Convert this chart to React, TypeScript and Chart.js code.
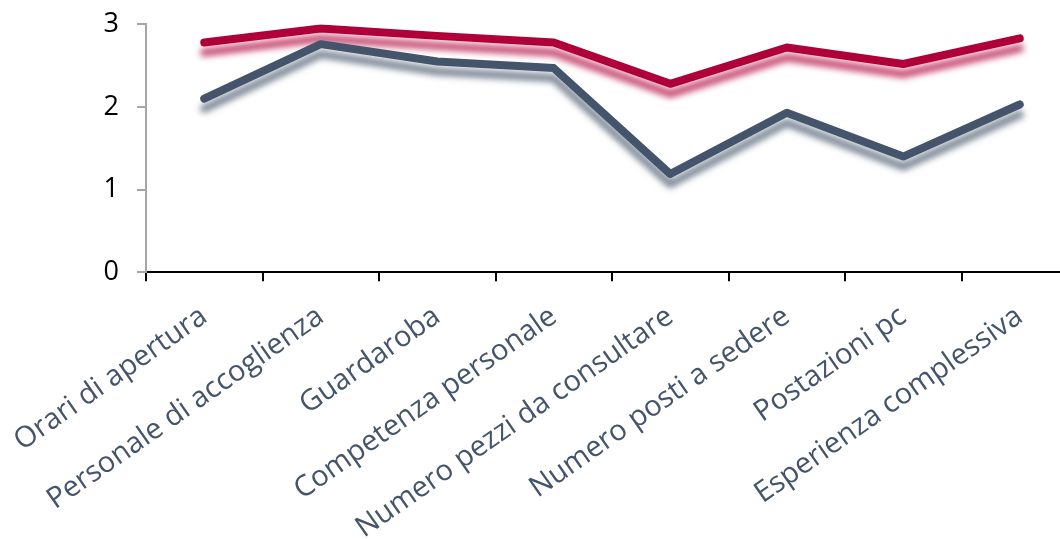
import React, { useEffect, useRef } from "react";
import { Chart, registerables } from "chart.js";

Chart.register(...registerables);

const categories = [
  "Orari di apertura",
  "Personale di accoglienza",
  "Guardaroba",
  "Competenza personale",
  "Numero pezzi da consultare",
  "Numero posti a sedere",
  "Postazioni pc",
  "Esperienza complessiva",
];

const serieRossa = [2.78, 2.95, 2.86, 2.78, 2.28, 2.72, 2.52, 2.83];
const serieGrigia = [2.1, 2.76, 2.55, 2.47, 1.19, 1.93, 1.4, 2.03];

const yTicks = [0, 1, 2, 3];

const RED = "#B0003A";
const GRAY = "#44546A";

const shadowPlugin = {
  id: "lineShadow",
  beforeDatasetDraw(chart: any, args: any) {
    const ds = chart.data.datasets[args.index] as any;
    const ctx = chart.ctx;
    ctx.save();
    ctx.shadowColor = ds.shadowColor;
    ctx.shadowBlur = 6;
    ctx.shadowOffsetX = 0;
    ctx.shadowOffsetY = 10;
  },
  afterDatasetDraw(chart: any) {
    chart.ctx.restore();
  },
};

export default function App() {
  const ref = useRef<HTMLCanvasElement | null>(null);

  useEffect(() => {
    if (!ref.current) return;
    const chart = new Chart(ref.current, {
      type: "line",
      data: {
        labels: categories,
        datasets: [
          {
            label: "Serie 1",
            data: serieRossa,
            borderColor: RED,
            backgroundColor: RED,
            borderWidth: 8,
            borderCapStyle: "round",
            borderJoinStyle: "round",
            pointRadius: 0,
            tension: 0,
            order: 1,
            shadowColor: "rgba(176,0,58,0.7)",
          } as any,
          {
            label: "Serie 2",
            data: serieGrigia,
            borderColor: GRAY,
            backgroundColor: GRAY,
            borderWidth: 8,
            borderCapStyle: "round",
            borderJoinStyle: "round",
            pointRadius: 0,
            tension: 0,
            order: 0,
            shadowColor: "rgba(68,84,106,0.7)",
          } as any,
        ],
      },
      options: {
        responsive: false,
        animation: false,
        devicePixelRatio: 1,
        layout: { padding: { top: 24.3, left: 0, right: 0, bottom: 0 } },
        plugins: {
          legend: { display: false },
          tooltip: { enabled: false },
        },
        scales: {
          x: {
            type: "category",
            offset: true,
            grid: {
              offset: true,
              drawOnChartArea: false,
              drawTicks: true,
              tickLength: 9,
              color: "#000000",
              lineWidth: 2,
            },
            border: { color: "#000000", width: 2 },
            ticks: {
              color: GRAY,
              font: { family: "'Open Sans', sans-serif", size: 29 },
              minRotation: 35,
              maxRotation: 35,
              autoSkip: false,
              padding: 18,
            },
            afterFit: (s: any) => {
              s.height = 539 - 272.3;
              s.paddingLeft = 0;
              s.paddingRight = 0;
              s.paddingTop = 0;
            },
          },
          y: {
            min: 0,
            max: 3,
            afterBuildTicks: (s: any) => {
              s.ticks = yTicks.map((v) => ({ value: v }));
            },
            grid: {
              drawOnChartArea: false,
              drawTicks: true,
              tickLength: 9,
              color: "#A6A6A6",
              lineWidth: 2,
            },
            border: { color: "#A6A6A6", width: 2 },
            ticks: {
              color: "#000000",
              font: { family: "'Open Sans', sans-serif", size: 27 },
              padding: 18,
            },
            afterFit: (s: any) => {
              s.width = 146;
              s.paddingTop = 0;
              s.paddingBottom = 0;
            },
          },
        },
      },
      plugins: [shadowPlugin],
    });
    return () => chart.destroy();
  }, []);

  return (
    <div
      style={{
        position: "fixed",
        left: 0,
        top: 0,
        width: 1060,
        height: 539,
        overflow: "hidden",
        background: "#ffffff",
      }}
    >
      <canvas ref={ref} width={1078} height={539} style={{ display: "block" }} />
    </div>
  );
}
